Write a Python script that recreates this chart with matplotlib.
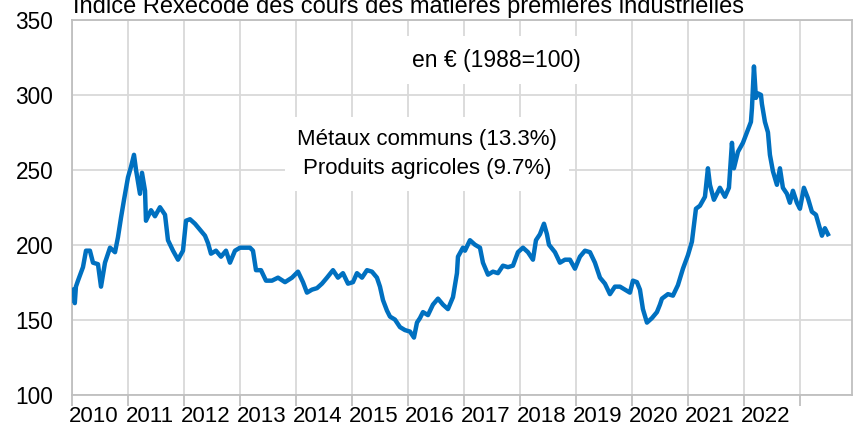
import matplotlib
matplotlib.use("Agg")
import matplotlib.pyplot as plt
from matplotlib.ticker import FixedLocator, NullFormatter, FixedFormatter

plt.rcParams['font.family'] = ['Liberation Sans', 'DejaVu Sans']

# decimal year positions and index values
t = [2010.03, 2010.05, 2010.07, 2010.107, 2010.196, 2010.25, 2010.32, 2010.375, 2010.464, 2010.518,
     2010.589, 2010.679, 2010.768, 2010.821, 2010.875, 2010.929, 2011.0, 2011.054, 2011.107, 2011.143,
     2011.214, 2011.25, 2011.304, 2011.321, 2011.411, 2011.482, 2011.571, 2011.661, 2011.714, 2011.804,
     2011.893, 2011.982, 2012.036, 2012.107, 2012.196, 2012.286, 2012.375, 2012.429, 2012.482, 2012.571,
     2012.661, 2012.75, 2012.821, 2012.911, 2013.0, 2013.089, 2013.179, 2013.232, 2013.286, 2013.375,
     2013.464, 2013.571, 2013.679, 2013.804, 2013.929, 2014.036, 2014.125, 2014.196, 2014.286, 2014.375,
     2014.464, 2014.554, 2014.661, 2014.75, 2014.839, 2014.929, 2015.018, 2015.089, 2015.179, 2015.268,
     2015.357, 2015.446, 2015.5, 2015.554, 2015.625, 2015.679, 2015.768, 2015.857, 2015.946, 2016.036,
     2016.107, 2016.161, 2016.214, 2016.268, 2016.357, 2016.446, 2016.536, 2016.625, 2016.714, 2016.804,
     2016.875, 2016.893, 2016.982, 2017.018, 2017.107, 2017.196, 2017.286, 2017.339, 2017.429, 2017.518,
     2017.607, 2017.696, 2017.786, 2017.875, 2017.964, 2018.054, 2018.143, 2018.232, 2018.286, 2018.357,
     2018.429, 2018.482, 2018.518, 2018.625, 2018.714, 2018.804, 2018.893, 2018.982, 2019.071, 2019.161,
     2019.25, 2019.339, 2019.429, 2019.518, 2019.607, 2019.696, 2019.786, 2019.875, 2019.964, 2020.018,
     2020.089, 2020.143, 2020.196, 2020.268, 2020.357, 2020.446, 2020.5, 2020.536, 2020.643, 2020.732,
     2020.821, 2020.911, 2021.0, 2021.071, 2021.107, 2021.143, 2021.214, 2021.304, 2021.357, 2021.393,
     2021.464, 2021.571, 2021.661, 2021.732, 2021.786, 2021.821, 2021.893, 2021.982, 2022.054, 2022.125,
     2022.143, 2022.179, 2022.214, 2022.25, 2022.304, 2022.321, 2022.375, 2022.429, 2022.464, 2022.518,
     2022.589, 2022.643, 2022.696, 2022.768, 2022.821, 2022.875, 2022.946, 2023.0, 2023.071, 2023.143,
     2023.214, 2023.286, 2023.339, 2023.393, 2023.446, 2023.5]
v = [170, 161, 172, 176, 185, 196, 196, 188, 187, 172,
     188, 198, 195, 205, 218, 230, 245, 252, 260, 250,
     234, 248, 236, 216, 223, 219, 225, 220, 203, 196,
     190, 196, 216, 217, 214, 210, 206, 201, 194, 196,
     192, 196, 188, 196, 198, 198, 198, 196, 183, 183,
     176, 176, 178, 175, 178, 182, 175, 168, 170, 171,
     174, 178, 183, 178, 181, 174, 175, 181, 178, 183,
     182, 178, 172, 163, 156, 152, 150, 145, 143, 142,
     138, 148, 151, 155, 153, 160, 164, 160, 157, 165,
     181, 192, 198, 196, 203, 200, 198, 188, 180, 182,
     181, 186, 185, 186, 195, 198, 195, 190, 203, 207,
     214, 207, 200, 195, 188, 190, 190, 184, 192, 196,
     195, 188, 178, 174, 167, 172, 172, 170, 168, 176,
     175, 170, 157, 148, 151, 155, 160, 164, 167, 166,
     173, 184, 193, 202, 213, 224, 226, 232, 251, 240,
     230, 238, 232, 238, 268, 251, 262, 268, 275, 282,
     291, 319, 298, 301, 300, 294, 282, 275, 260, 249,
     240, 251, 238, 234, 228, 236, 228, 224, 238, 231,
     222, 220, 213, 206, 211, 207]

years = list(range(2010, 2024))
year_labels = [str(y) for y in range(2010, 2023)]
y_ticks = [100, 150, 200, 250, 300, 350]

title = "Indice Rexecode des cours des matières premières industrielles"
note_unit = "en € (1988=100)"
note_weights = "Métaux communs (13.3%)\nProduits agricoles (9.7%)"

fig = plt.figure(figsize=(8.57, 4.30), dpi=100)
ax = fig.add_axes([72/857, 1 - 394.5/430, (852 - 72)/857, (394.5 - 20)/430])

grid_c = '#d9d9d9'
spine_c = '#bfbfbf'

ax.plot(t, v, color='#0070C0', lw=3.2, solid_joinstyle='round', zorder=3)

ax.set_xlim(2010, 2023.93)
ax.set_ylim(100, 350)

ax.xaxis.set_major_locator(FixedLocator(years))
ax.xaxis.set_major_formatter(NullFormatter())
ax.xaxis.set_minor_locator(FixedLocator([y + 0.39 for y in range(2010, 2023)]))
ax.xaxis.set_minor_formatter(FixedFormatter(year_labels))
ax.tick_params(axis='x', which='major', length=8, width=1.3, color=spine_c, direction='out')
ax.tick_params(axis='x', which='minor', length=0, pad=8, labelsize=16)
ax.set_yticks(y_ticks)
ax.tick_params(axis='y', length=0, pad=13.5, labelsize=16.3)

ax.grid(True, which='major', color=grid_c, lw=1.3, zorder=0)
for s in ax.spines.values():
    s.set_color(spine_c)
    s.set_linewidth(1.3)

ax.text(2010 + (496 - 72)/56, 350 - (60 - 20)/1.498, note_unit, ha='center', va='center',
        fontsize=16.5, zorder=4,
        bbox=dict(facecolor='white', edgecolor='none', pad=9))
ax.text(2010 + (427 - 72)/56, 350 - (154 - 20)/1.498, note_weights, ha='center', va='center',
        multialignment='center', fontsize=16, linespacing=1.5, zorder=4,
        bbox=dict(facecolor='white', edgecolor='none', pad=9))

fig.text(73/857, 1 - 13.5/430, title, ha='left', va='baseline', fontsize=17)

fig.savefig('out.png', dpi=100)
